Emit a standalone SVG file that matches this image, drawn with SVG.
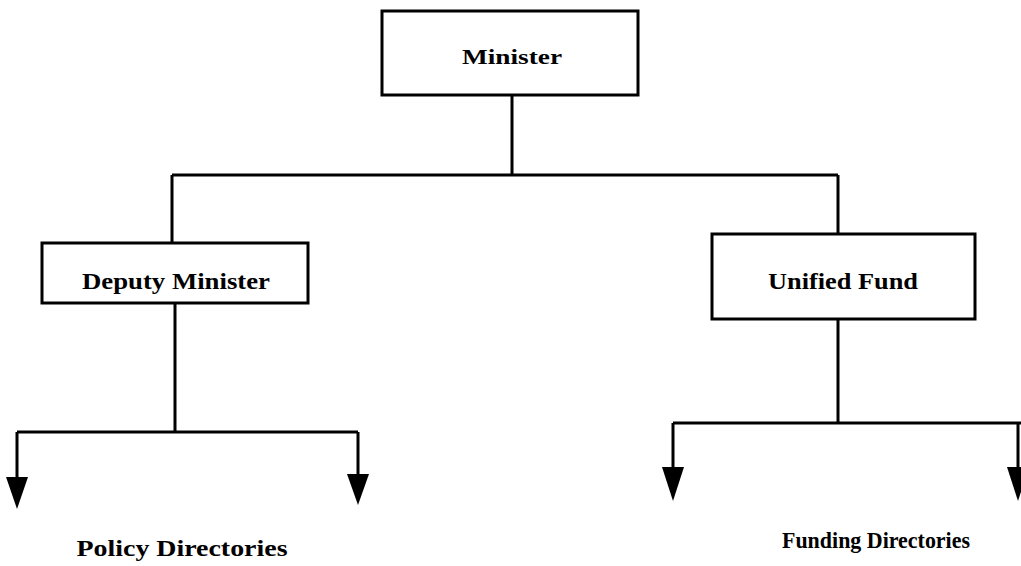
<svg xmlns="http://www.w3.org/2000/svg" width="1021" height="566" viewBox="0 0 1021 566">
<style>
.box{fill:#fff;stroke:#000;stroke-width:3}
.ln{fill:none;stroke:#000;stroke-width:3}
.hd{fill:#000}
.t{font-family:"Liberation Serif",serif;font-weight:bold;fill:#000;text-anchor:middle}
</style>
<rect width="1021" height="566" fill="#fff"/>
<g id="connectors">
<path class="ln" d="M512,95 V175 M172,175 H838 M172,175 V243 M838,175 V234"/>
<path class="ln" d="M175,303 V432 M17,432 H358 M17,432 V482 M358,432 V478"/>
<path class="ln" d="M838,319 V423 M673,423 H1021 M673,423 V472 M1018,423 V472"/>
<polygon class="hd" points="6,477 28,477 17,509"/>
<polygon class="hd" points="347,474 369,474 358,505"/>
<polygon class="hd" points="662,467 684,467 673,501"/>
<polygon class="hd" points="1007,467 1029,467 1018,501"/>
</g>
<g id="minister">
<rect class="box" x="382" y="11" width="256" height="84"/>
<text class="t" x="512" y="64" font-size="22" textLength="100" lengthAdjust="spacingAndGlyphs">Minister</text>
</g>
<g id="deputy">
<rect class="box" x="42" y="243" width="266" height="60"/>
<text class="t" x="176" y="289" font-size="23" textLength="188" lengthAdjust="spacingAndGlyphs">Deputy Minister</text>
</g>
<g id="fund">
<rect class="box" x="712" y="234" width="263" height="85"/>
<text class="t" x="843" y="289" font-size="23" textLength="150" lengthAdjust="spacingAndGlyphs">Unified Fund</text>
</g>
<g id="policy">
<text class="t" x="182" y="556" font-size="24" textLength="211" lengthAdjust="spacingAndGlyphs">Policy Directories</text>
</g>
<g id="funding">
<text class="t" x="876" y="548" font-size="23" textLength="188" lengthAdjust="spacingAndGlyphs">Funding Directories</text>
</g>
</svg>
